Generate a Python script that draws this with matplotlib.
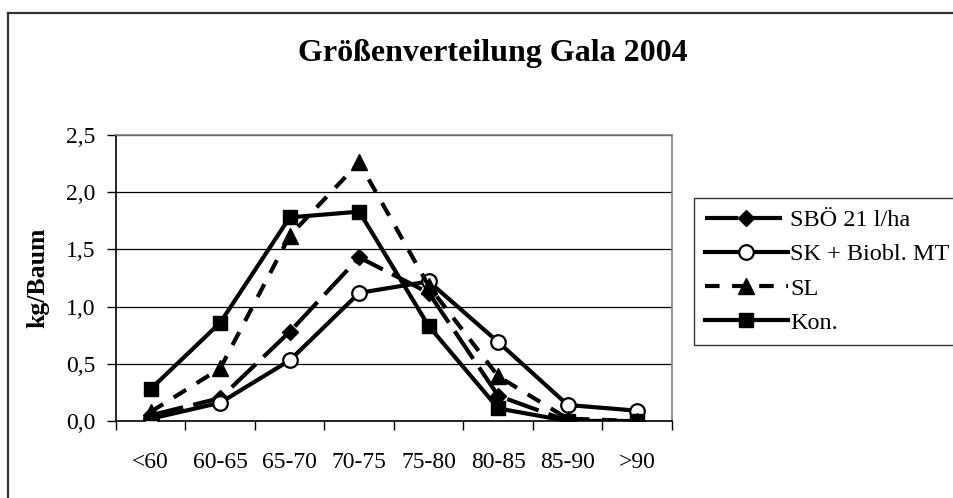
import numpy as np
import matplotlib.pyplot as plt
from matplotlib.ticker import FixedLocator, FuncFormatter
from matplotlib.lines import Line2D

# --- données ---
classes = ["<60", "60-65", "65-70", "70-75", "75-80", "80-85", "85-90", ">90"]
sbo = [0.05, 0.20, 0.78, 1.43, 1.12, 0.22, 0.00, 0.00]     # SBÖ 21 l/ha
sk = [0.02, 0.16, 0.53, 1.12, 1.22, 0.69, 0.14, 0.09]      # SK + Biobl. MT
sl = [0.08, 0.46, 1.62, 2.26, 1.18, 0.39, 0.02, 0.00]      # SL
kon = [0.28, 0.86, 1.78, 1.83, 0.83, 0.11, 0.00, 0.00]     # Kon.
noms = ["SBÖ 21 l/ha", "SK + Biobl. MT", "SL", "Kon."]

plt.rcParams['font.family'] = ['Liberation Serif', 'DejaVu Serif']

fig = plt.figure(figsize=(9.54, 4.98), dpi=100)

# cadre extérieur (gauche + haut), coupé à droite et en bas
fig.add_artist(Line2D([8.5 / 954, 8.5 / 954], [0, 1 - 13 / 498], color='#333333', lw=1.6))
fig.add_artist(Line2D([8.5 / 954, 1], [1 - 13 / 498, 1 - 13 / 498], color='#333333', lw=1.6))

ax = fig.add_axes([116 / 954, 1 - 421 / 498, 556 / 954, 286 / 498])
x = np.arange(len(classes))

lw = 3
ax.plot(x, sbo, color='black', lw=lw, dashes=(8, 2.5), marker='D', ms=8.5,
        mfc='black', mec='black', label=noms[0], zorder=3)
ax.plot(x, sk, color='black', lw=lw, marker='o', ms=10.5, mfc='white',
        mec='black', mew=1.6, label=noms[1], zorder=3)
ax.plot(x, sl, color='black', lw=lw, dashes=(3.5, 3), marker='^', ms=11,
        mfc='black', mec='black', label=noms[2], zorder=3)
ax.plot(x, kon, color='black', lw=lw, marker='s', ms=10.5, mfc='black',
        mec='black', label=noms[3], zorder=4)

ax.set_xlim(-0.5, len(classes) - 0.5)
ax.set_ylim(0, 2.5)
ax.set_yticks(np.arange(0, 2.51, 0.5))
ax.yaxis.set_major_formatter(FuncFormatter(lambda v, p: f"{v:.1f}".replace('.', ',')))
ax.set_xticks(x)
ax.set_xticklabels(classes)
ax.xaxis.set_minor_locator(FixedLocator(np.arange(-0.5, len(classes), 1.0)))
ax.tick_params(axis='x', which='major', length=0, pad=22, labelsize=17)
ax.tick_params(axis='x', which='minor', length=6.5, width=1, direction='out')
ax.tick_params(axis='y', length=6.5, width=1, direction='out', pad=8, labelsize=17)

ax.grid(axis='y', color='black', lw=0.9)
ax.set_axisbelow(True)
for s in ['top', 'right']:
    ax.spines[s].set_color('#808080')
    ax.spines[s].set_linewidth(1.2)
for s in ['left', 'bottom']:
    ax.spines[s].set_color('black')
    ax.spines[s].set_linewidth(1.2)

ax.set_ylabel("kg/Baum", fontsize=18.5, fontweight='bold', labelpad=12)

fig.text(493 / 954, 1 - 54 / 498, "Größenverteilung Gala 2004", ha='center',
         va='center', fontsize=23, fontweight='bold')

leg = fig.legend(loc='center left', bbox_to_anchor=(694 / 954, 1 - 346 / 498, 0.4, 149 / 498),
                 mode='expand', fontsize=17.5, handlelength=3.4, handletextpad=0.1,
                 numpoints=1, frameon=True, fancybox=False, borderpad=0.45,
                 labelspacing=0.5, borderaxespad=0)
leg.get_frame().set_edgecolor('black')
leg.get_frame().set_linewidth(1)

fig.savefig("out.png", dpi=100)
